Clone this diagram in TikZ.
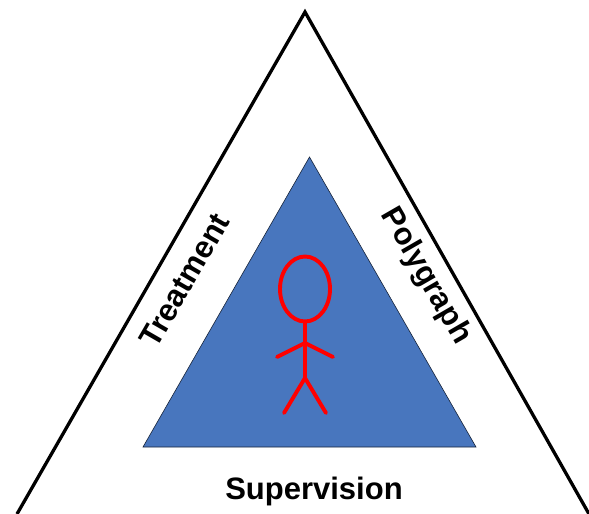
\documentclass[tikz,border=0pt]{standalone}
\usepackage{fontspec}
\setmainfont{Liberation Sans}
\usetikzlibrary{shapes.geometric}
\definecolor{blue1}{HTML}{4876BE}
\definecolor{red1}{HTML}{FF0000}
\begin{document}
\begin{tikzpicture}[x=1pt,y=-1pt,
  outer/.style={draw=black,line width=3.3pt,line join=miter},
  inner/.style={fill=blue1,draw=black!70!blue1,line width=0.6pt},
  man/.style={draw=red1,line width=3.9pt,line cap=round,line join=round},
  lab/.style={font=\bfseries\fontsize{31}{34}\selectfont,text=black,inner sep=0pt}]
\useasboundingbox (0,0) rectangle (589,514);
\coordinate (apex) at (305,12);
\coordinate (bl) at (17,514);
\coordinate (br) at (589,514);
\draw[outer] (bl) -- (apex) -- (br);
\coordinate (ia) at (309.5,157);
\coordinate (il) at (143,447);
\coordinate (ir) at (476,447);
\draw[inner] (ia) -- (il) -- (ir) -- cycle;
\node[man,ellipse,minimum width=50pt,minimum height=65pt,inner sep=0pt,outer sep=0pt] (hd) at (305,289) {};
\coordinate (hip) at (305,378);
\coordinate (al) at (277,357);
\coordinate (ar) at (333,357);
\coordinate (ac) at (305,343);
\coordinate (fl) at (284,413);
\coordinate (fr) at (326,413);
\draw[man] (hd.south) -- (hip);
\draw[man] (al) -- (ac) -- (ar);
\draw[man] (fl) -- (hip) -- (fr);
\node[lab,rotate=60] (t) at (184.5,280) {Treatment};
\node[lab,rotate=-60] (p) at (425.5,276) {Polygraph};
\node[lab] (s) at (314,491) {Supervision};
\end{tikzpicture}
\end{document}
